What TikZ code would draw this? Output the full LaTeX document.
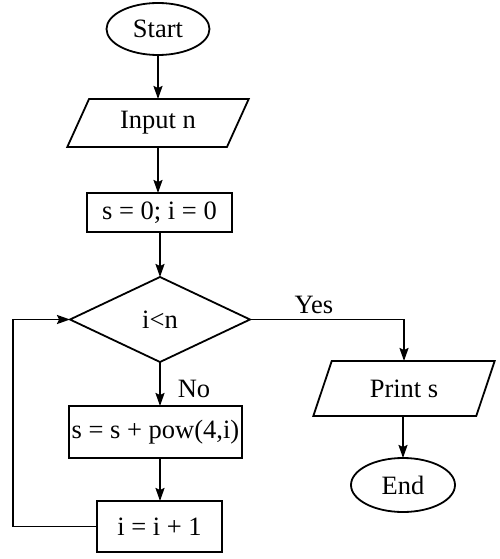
\documentclass[tikz,border=0pt]{standalone}
\usepackage{fontspec}
\setmainfont{Liberation Serif}
\usetikzlibrary{shapes.geometric,arrows.meta}
\begin{document}
\begin{tikzpicture}[x=1pt,y=-1pt,
  every node/.style={font=\fontsize{26.5}{31}\selectfont},
  base/.style={draw, line width=1.8pt, inner sep=0pt, outer sep=0pt},
  term/.style={base, ellipse},
  io/.style={base, trapezium, trapezium stretches=true},
  proc/.style={base, rectangle},
  dec/.style={base, diamond},
  lbl/.style={inner sep=0pt},
  conn/.style={line width=1.8pt, -{Stealth[length=13pt,width=9pt,inset=2pt]}}
]
\useasboundingbox (0,0) rectangle (500,559);
\node[term, minimum width=103pt, minimum height=52pt] (start) at (158,29) {Start};
\node[io, trapezium left angle=62.5, trapezium right angle=117.5, minimum width=182pt, minimum height=48pt] (input) at (158,123) {Input n};
\node[proc, minimum width=145pt, minimum height=39pt] (init) at (159.5,212.5) {s = 0; i = 0};
\node[dec, minimum width=180pt, minimum height=85pt] (cond) at (160,319.5) {i<n};
\node[proc, minimum width=173pt, minimum height=52pt] (body) at (155.5,432) {s = s + pow(4,i)};
\node[proc, minimum width=125pt, minimum height=51pt] (inc) at (159.5,526.5) {i = i + 1};
\node[io, trapezium left angle=63.9, trapezium right angle=116.1, minimum width=182pt, minimum height=55pt] (print) at (404,388.5) {Print s};
\node[term, minimum width=104pt, minimum height=54pt] (end) at (403,485) {End};
\node[lbl] (yes) at (314,305) {Yes};
\node[lbl] (no) at (194,389) {No};
\coordinate (loopb) at (13,526.5);
\coordinate (loopt) at (13,319.5);

\draw[conn] (start.south) -- (start.south |- input.north);
\draw[conn] (input.south -| start.south) -- (start.south |- init.north);
\draw[conn] (init.south -| cond.north) -- (cond.north);
\draw[conn] (cond.south) -- (cond.south |- body.north);
\draw[conn] (body.south -| cond.south) -- (cond.south |- inc.north);
\draw[conn] (cond.east) -| (print.north);
\draw[conn] (print.south -| end.north) -- (end.north);
\draw[conn] (inc.west) -- (loopb) -- (loopt) -- (cond.west);
\end{tikzpicture}
\end{document}
